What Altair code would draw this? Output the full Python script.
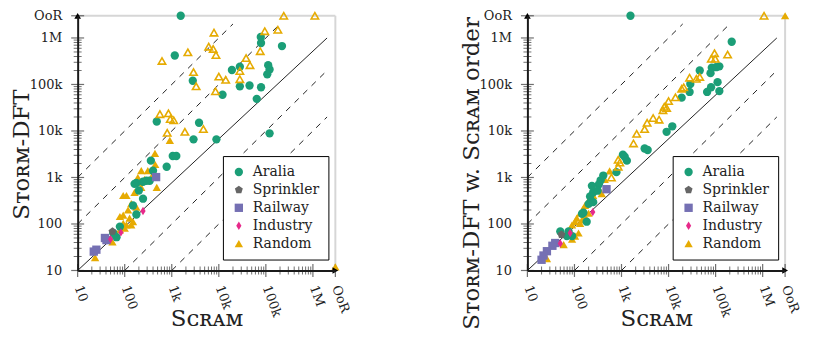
import altair as alt
import pandas as pd

# ---------------------------------------------------------------- constants
OOR = 3.0e6          # "out of range" value = end of both axes
LO = 10.0
FONT = "DejaVu Serif"
INK = "#222222"

CATS = ["Aralia", "Sprinkler", "Railway", "Industry", "Random"]
COLORS = ["#1b9e77", "#666666", "#7570b3", "#e7298a", "#e6ab02"]
PENTAGON = "M0,-1L0.951,-0.309L0.588,0.809L-0.588,0.809L-0.951,-0.309Z"
DIAMOND = "M0,-1L0.62,0L0,1L-0.62,0Z"
SHAPES = ["circle", PENTAGON, "square", DIAMOND, "triangle-up"]

MAJOR_VALUES = [10, 100, 1000, 10000, 100000, 1000000, OOR]
MAJOR_LABELS = ["10", "100", "1k", "10k", "100k", "1M", "OoR"]
MINOR_VALUES = [m * 10 ** k for k in range(1, 6) for m in range(2, 10)]

# reference lines: name, style, start (x, y), end (x, y)
REF_NAMES = ["100x", "10x", "fit", "x/10", "x/100"]
REF_STYLE = ["dashed", "dashed", "solid", "dashed", "dashed"]
REF_X0 = [10, 10, 10, 100, 1000]
REF_Y0 = [1000, 100, 10, 10, 10]
REF_X1 = [2e4, 2e5, 2e6, 2e6, 2e6]
REF_Y1 = [2e6, 2e6, 1e6, 2e5, 2e4]

# ---------------------------------------------------------------- left panel data
L_ARALIA_X = [1550, 1160, 78e3, 79e3, 220e3, 19e3, 28e3, 112e3, 120e3, 107e3, 2.8e3, 28e3,
              45e3, 79e3, 12e3, 64e3, 480, 3.8e3, 120e3, 2.9e3, 8.9e3, 1050, 1250, 360, 780,
              400, 340, 245, 177, 200, 245, 150, 177, 162, 290, 79, 67, 57]
L_ARALIA_Y = [OOR, 420e3, 1.05e6, 780e3, 670e3, 205e3, 240e3, 260e3, 210e3, 165e3, 120e3, 91e3,
              95e3, 87e3, 60e3, 49e3, 16e3, 15e3, 8.9e3, 6.6e3, 6.6e3, 2.9e3, 2.9e3, 2.3e3, 1.7e3,
              1.4e3, 850, 810, 760, 525, 350, 250, 160, 730, 850, 88, 52, 64]
L_SPRINKLER_X = [55]
L_SPRINKLER_Y = [69]
L_RAILWAY_X = [22, 25, 38, 41, 465]
L_RAILWAY_Y = [25.5, 28, 50, 45, 1020]
L_INDUSTRY_X = [245, 83, 50]
L_INDUSTRY_Y = [190, 66, 47]
L_RANDOM_X = [910, 440, 445, 310, 225, 380, 480, 225, 93, 109, 162, 138, 177, 118, 93, 79, 127,
              150, 109, 138, 93, 100, 79, 55, 23.5, 190, 205, 265, OOR]
L_RANDOM_Y = [6.3e3, 3.3e3, 1.9e3, 1.4e3, 1.4e3, 1.07e3, 610, 610, 410, 410, 480, 275, 230, 200,
              155, 145, 133, 112, 96, 96, 103, 81, 75, 41, 19, 1000, 780, 910, 12]
L_HOLLOW_X = [240e3, 1.1e6, 7.9e3, 95e3, 180e3, 2.2e3, 620, 6.1e3, 7.6e3, 8.7e3, 76e3, 38e3,
              46e3, 28e3, 28e3, 2.9e3, 3.3e3, 10e3, 14e3, 8.5e3, 560, 850, 930, 1.1e3, 800,
              1.9e3, 4.7e3]
L_HOLLOW_Y = [OOR, OOR, 1.3e6, 1.4e6, 1.5e6, 490e3, 320e3, 650e3, 580e3, 430e3, 520e3, 370e3,
              260e3, 195e3, 130e3, 185e3, 91e3, 148e3, 126e3, 71e3, 23e3, 24e3, 18e3, 17e3,
              9.1e3, 9.6e3, 11e3]

# ---------------------------------------------------------------- right panel data
R_ARALIA_X = [1550, 220e3, 46e3, 83e3, 120e3, 102e3, 78e3, 29e3, 28e3, 19e3, 66e3, 80e3, 110e3,
              120e3, 12e3, 9.1e3, 3.1e3, 3.6e3, 1.07e3, 1.17e3, 1.3e3, 780, 410, 360, 330, 250,
              310, 215, 200, 250, 155, 145, 182, 235, 50, 75, 89, 69]
R_ARALIA_Y = [OOR, 830e3, 200e3, 230e3, 245e3, 235e3, 175e3, 102e3, 69e3, 52e3, 69e3, 87e3,
              112e3, 72e3, 12.6e3, 9.6e3, 4.2e3, 3.9e3, 3.1e3, 2.8e3, 2.3e3, 1.3e3, 1.1e3, 870,
              710, 480, 520, 390, 270, 295, 175, 166, 112, 660, 69, 69, 55, 55]
R_SPRINKLER_X = [53]
R_SPRINKLER_Y = [59]
R_RAILWAY_X = [480, 39, 34, 26, 22, 20]
R_RAILWAY_Y = [560, 39, 34, 26, 21, 17]
R_INDUSTRY_X = [245, 81, 50]
R_INDUSTRY_Y = [180, 64, 38]
R_RANDOM_X = [560, 440, 320, 380, 250, 200, 167, 155, 132, 112, 103, 89, 132, 200, 167, 145,
              103, 122, 89, 59, 26, OOR]
R_RANDOM_Y = [1.38e3, 910, 610, 450, 410, 320, 250, 215, 170, 133, 112, 96, 103, 170, 145, 122,
              55, 64, 47, 36, 18, OOR]
R_HOLLOW_X = [1.07e6, 95e3, 81e3, 98e3, 180e3, 28e3, 39e3, 46e3, 19e3, 21e3, 14e3, 10e3, 8.1e3,
              9.1e3, 7.6e3, 4.7e3, 6.3e3, 3.5e3, 3.1e3, 2.1e3, 1.8e3, 850, 920, 850, 610]
R_HOLLOW_Y = [OOR, 470e3, 355e3, 355e3, 440e3, 140e3, 132e3, 145e3, 81e3, 87e3, 53e3, 44e3,
              33e3, 31e3, 28e3, 19e3, 17.5e3, 15e3, 11e3, 8.7e3, 5.4e3, 2.4e3, 2.1e3, 1.7e3, 1e3]


# ---------------------------------------------------------------- helpers
def label_expr(vals, labs):
    expr = "''"
    for v, lab in reversed(list(zip(vals, labs))):
        expr = f"abs(datum.value / {v} - 1) < 0.01 ? '{lab}' : ({expr})"
    return expr


LABEL_EXPR = label_expr(MAJOR_VALUES, MAJOR_LABELS)


def points_df(groups):
    rows = []
    for cat, xs, ys in groups:
        for x, y in zip(xs, ys):
            rows.append({"x": x, "y": y, "cat": cat})
    return pd.DataFrame(rows)


lines_rows = []
for n, s, x0, y0, x1, y1 in zip(REF_NAMES, REF_STYLE, REF_X0, REF_Y0, REF_X1, REF_Y1):
    lines_rows.append({"name": n, "style": s, "x": x0, "y": y0})
    lines_rows.append({"name": n, "style": s, "x": x1, "y": y1})
lines_df = pd.DataFrame(lines_rows)

frame_df = pd.DataFrame({"x": [LO, OOR], "x2": [OOR, OOR], "y": [OOR, LO], "y2": [OOR, OOR]})
major_df = pd.DataFrame({"v": MAJOR_VALUES, "edge": [LO] * len(MAJOR_VALUES)})
minor_df = pd.DataFrame({"v": MINOR_VALUES, "edge": [LO] * len(MINOR_VALUES)})

W, H = 259, 256


def panel(filled, hx, hy, ytitle, title_y):
    xs = alt.Scale(type="log", domain=[LO, OOR], nice=False)
    ys = alt.Scale(type="log", domain=[LO, OOR], nice=False)

    common = dict(values=MAJOR_VALUES, labelExpr=LABEL_EXPR, domain=True,
                  domainColor="#1a1a1a", domainWidth=2, ticks=False, zindex=2, grid=False,
                  labelFont=FONT, labelFontSize=13, labelColor=INK, labelOverlap=False,
                  labelFlush=False, titleFont=FONT, titleFontWeight="normal", titleColor=INK,
                  titleBaseline="middle", titleAlign="center", titleFontSize=23)

    axis_x = alt.Axis(orient="bottom", labelAngle=70, labelAlign="left", labelBaseline="middle",
                      labelPadding=15, title="Sᴄʀᴀᴍ", titleY=48, **common)
    axis_y = alt.Axis(orient="left", labelAngle=0, labelPadding=16, labelBaseline="middle",
                      title=ytitle, titleAngle=270, titleX=-56, titleY=title_y, **common)

    legend = alt.Legend(orient="none", legendX=146, legendY=141, title=None, direction="vertical",
                        strokeColor="black", fillColor="white", padding=9, labelFont=FONT,
                        labelFontSize=14, labelColor=INK, symbolSize=70, symbolStrokeWidth=0,
                        symbolOpacity=1, rowPadding=4, labelOffset=7)

    frame = alt.Chart(frame_df).mark_rule(color="#d6d6d6", strokeWidth=2).encode(
        x=alt.X("x:Q", scale=xs, axis=axis_x), x2="x2:Q",
        y=alt.Y("y:Q", scale=ys, axis=axis_y), y2="y2:Q")

    # tick marks that cross the axis lines, as in the original
    def ticks(df, size, width):
        tx = alt.Chart(df).mark_tick(orient="vertical", color="#333333", thickness=width,
                                     size=size).encode(
            x=alt.X("v:Q", scale=xs), y=alt.Y("edge:Q", scale=ys))
        ty = alt.Chart(df).mark_tick(orient="horizontal", color="#333333", thickness=width,
                                     size=size).encode(
            y=alt.Y("v:Q", scale=ys), x=alt.X("edge:Q", scale=xs))
        return [tx, ty]

    dashed = alt.Chart(lines_df[lines_df["style"] == "dashed"]).mark_line(
        color=INK, strokeWidth=1, strokeDash=[6, 6]).encode(
        x=alt.X("x:Q", scale=xs), y=alt.Y("y:Q", scale=ys), detail="name:N")
    solid = alt.Chart(lines_df[lines_df["style"] == "solid"]).mark_line(
        color=INK, strokeWidth=1).encode(
        x=alt.X("x:Q", scale=xs), y=alt.Y("y:Q", scale=ys), detail="name:N")

    pts = alt.Chart(points_df(filled)).mark_point(filled=True, opacity=1, size=70).encode(
        x=alt.X("x:Q", scale=xs),
        y=alt.Y("y:Q", scale=ys),
        color=alt.Color("cat:N", scale=alt.Scale(domain=CATS, range=COLORS), legend=legend),
        shape=alt.Shape("cat:N", scale=alt.Scale(domain=CATS, range=SHAPES), legend=legend))

    hollow = alt.Chart(pd.DataFrame({"x": hx, "y": hy})).mark_point(
        shape="triangle-up", filled=False, color="#e6ab02", strokeWidth=1.6, size=55,
        opacity=1).encode(x=alt.X("x:Q", scale=xs), y=alt.Y("y:Q", scale=ys))

    arrow_x = alt.Chart(pd.DataFrame({"x": [OOR], "y": [LO]})).mark_point(
        shape="triangle-right", filled=True, color="#000000", size=45, opacity=1).encode(
        x=alt.X("x:Q", scale=xs), y=alt.Y("y:Q", scale=ys))
    arrow_y = alt.Chart(pd.DataFrame({"x": [LO], "y": [OOR]})).mark_point(
        shape="triangle-up", filled=True, color="#000000", size=45, opacity=1).encode(
        x=alt.X("x:Q", scale=xs), y=alt.Y("y:Q", scale=ys))

    layers = [frame] + ticks(major_df, 13, 1.2) + ticks(minor_df, 8, 1) + [
        dashed, solid, pts, hollow, arrow_x, arrow_y]
    return alt.layer(*layers).properties(width=W, height=H)


left = panel([("Random", L_RANDOM_X, L_RANDOM_Y), ("Aralia", L_ARALIA_X, L_ARALIA_Y),
              ("Sprinkler", L_SPRINKLER_X, L_SPRINKLER_Y), ("Railway", L_RAILWAY_X, L_RAILWAY_Y),
              ("Industry", L_INDUSTRY_X, L_INDUSTRY_Y)],
             L_HOLLOW_X, L_HOLLOW_Y, "Sᴛᴏʀᴍ-DFT", 139)
right = panel([("Random", R_RANDOM_X, R_RANDOM_Y), ("Aralia", R_ARALIA_X, R_ARALIA_Y),
               ("Sprinkler", R_SPRINKLER_X, R_SPRINKLER_Y), ("Railway", R_RAILWAY_X, R_RAILWAY_Y),
               ("Industry", R_INDUSTRY_X, R_INDUSTRY_Y)],
              R_HOLLOW_X, R_HOLLOW_Y, "Sᴛᴏʀᴍ-DFT w. Sᴄʀᴀᴍ order", 158)

chart = alt.hconcat(left, right, spacing=193, bounds="flush").resolve_scale(
    x="independent", y="independent", color="independent", shape="independent").resolve_legend(
    color="independent", shape="independent").properties(
    padding={"left": 3, "top": 0, "right": 6, "bottom": 0}).configure_view(stroke=None)

chart.save("out.html", embed_options={"renderer": "svg", "actions": False})
